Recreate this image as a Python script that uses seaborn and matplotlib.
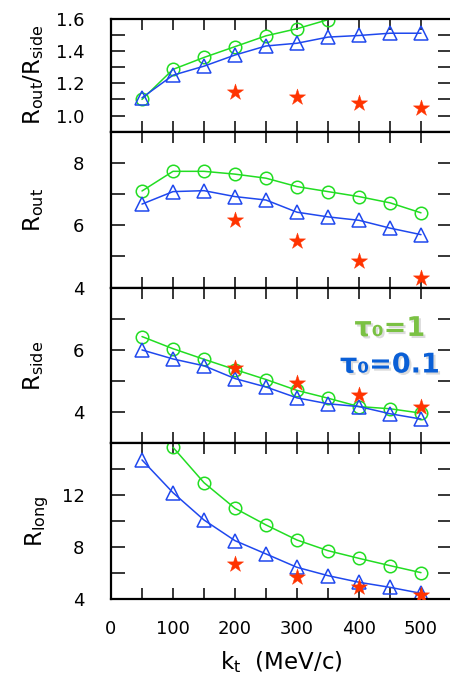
import matplotlib
matplotlib.use("Agg")
import matplotlib.pyplot as plt
import matplotlib.patheffects as pe
import seaborn as sns

# k_t values (MeV/c)
kt = [50, 100, 150, 200, 250, 300, 350, 400, 450, 500]
kt_data = [200, 300, 400, 500]

# Rout/Rside
ratio_tau1 = [1.10, 1.286, 1.36, 1.427, 1.494, 1.538, 1.594]
ratio_tau01 = [1.11, 1.25, 1.306, 1.375, 1.431, 1.448, 1.486, 1.496, 1.51, 1.51]
ratio_data = [1.144, 1.115, 1.077, 1.044]

# Rout
rout_tau1 = [7.10, 7.73, 7.73, 7.64, 7.51, 7.24, 7.08, 6.92, 6.72, 6.40]
rout_tau01 = [6.68, 7.08, 7.11, 6.92, 6.81, 6.42, 6.27, 6.16, 5.91, 5.70]
rout_data = [6.16, 5.49, 4.86, 4.32]

# Rside
rside_tau1 = [6.43, 6.04, 5.70, 5.37, 5.05, 4.70, 4.45, 4.18, 4.11, 3.97]
rside_tau01 = [6.00, 5.71, 5.49, 5.08, 4.81, 4.46, 4.27, 4.18, 3.95, 3.78]
rside_data = [5.41, 4.94, 4.54, 4.16]

# Rlong (tau0=1 starts at 100 MeV/c, the 50 point is off scale)
kt_long_tau1 = [100, 150, 200, 250, 300, 350, 400, 450, 500]
rlong_tau1 = [15.69, 12.97, 11.0, 9.72, 8.56, 7.74, 7.15, 6.59, 6.05]
rlong_tau01 = [14.72, 12.2, 10.1, 8.51, 7.49, 6.46, 5.82, 5.31, 4.92, 4.46]
rlong_data = [6.69, 5.74, 4.97, 4.33]

xticks = [0, 50, 100, 150, 200, 250, 300, 350, 400, 450, 500, 550]
xticklabels = ["0", "", "100", "", "200", "", "300", "", "400", "", "500", ""]

panels = [
    dict(ylabel="R$_{\\rm out}$/R$_{\\rm side}$", ylim=(0.9, 1.6),
         yticks=[1.0, 1.1, 1.2, 1.3, 1.4, 1.5, 1.6],
         ylabels=["1.0", "", "1.2", "", "1.4", "", "1.6"],
         k1=kt[:7], y1=ratio_tau1, y01=ratio_tau01, yd=ratio_data, lx=-0.19),
    dict(ylabel="R$_{\\rm out}$", ylim=(4, 9),
         yticks=[4, 5, 6, 7, 8], ylabels=["4", "", "6", "", "8"],
         k1=kt, y1=rout_tau1, y01=rout_tau01, yd=rout_data, lx=-0.19),
    dict(ylabel="R$_{\\rm side}$", ylim=(3, 8),
         yticks=[4, 5, 6, 7], ylabels=["4", "", "6", ""],
         k1=kt, y1=rside_tau1, y01=rside_tau01, yd=rside_data, lx=-0.19),
    dict(ylabel="R$_{\\rm long}$", ylim=(4, 16),
         yticks=[4, 6, 8, 10, 12, 14], ylabels=["4", "", "8", "", "12", ""],
         k1=kt_long_tau1, y1=rlong_tau1, y01=rlong_tau01, yd=rlong_data, lx=-0.175),
]

green = "#22dd22"
blue = "#1f48ee"
red = "#ff3300"

sns.set_style("ticks")
plt.rcParams["font.family"] = ["DejaVu Sans"]
plt.rcParams["mathtext.fontset"] = "dejavusans"
plt.rcParams["text.color"] = "black"
plt.rcParams["axes.labelcolor"] = "black"
plt.rcParams["xtick.labelcolor"] = "black"
plt.rcParams["ytick.labelcolor"] = "black"

W, H = 450, 684
fig = plt.figure(figsize=(W / 100, H / 100), dpi=100)

left_px, right_px = 111, 452
edges_px = [18.7, 131.7, 287.7, 443.3, 599.3]

axes = []
for i, p in enumerate(panels):
    top, bot = edges_px[i], edges_px[i + 1]
    ax = fig.add_axes([left_px / W, 1 - bot / H, (right_px - left_px) / W, (bot - top) / H])
    axes.append(ax)

    sns.lineplot(x=p["k1"], y=p["y1"], ax=ax, color=green, lw=1.1, marker="o",
                 markersize=9, markerfacecolor="none", markeredgecolor=green,
                 markeredgewidth=1.1)
    sns.lineplot(x=kt, y=p["y01"], ax=ax, color=blue, lw=1.1, marker="^",
                 markersize=10, markerfacecolor="none", markeredgecolor=blue,
                 markeredgewidth=1.1)
    sns.scatterplot(x=kt_data, y=p["yd"], ax=ax, color=red, marker="*", s=150,
                    edgecolor=red, linewidth=0.3, zorder=5)

    ax.set_xlim(0, 550)
    ax.set_ylim(*p["ylim"])
    ax.set_xticks(xticks)
    ax.set_yticks(p["yticks"])
    ax.set_yticklabels(p["ylabels"])
    if i == 3:
        ax.set_xticklabels(xticklabels)
        ax.set_xlabel("k$_{\\rm t}$  (MeV/c)", fontsize=16.5, labelpad=8)
    else:
        ax.set_xticklabels([])
    ax.tick_params(axis="x", direction="in", top=True, bottom=True,
                   length=8, width=1.1, labelsize=13, pad=15, color="black")
    ax.tick_params(axis="y", direction="in", left=True, right=True,
                   length=10, width=1.1, labelsize=13, pad=19, color="black")
    ax.set_ylabel(p["ylabel"], fontsize=16.5)
    ax.yaxis.set_label_coords(p["lx"], 0.5)
    for s in ax.spines.values():
        s.set_linewidth(1.6)
        s.set_color("black")

shadow = [pe.withSimplePatchShadow(offset=(1.5, -1.5), shadow_rgbFace="#999999", alpha=0.35)]
axes[2].text(0.818, 0.735, "τ₀=1", transform=axes[2].transAxes, ha="center",
             va="center", fontsize=19.5, fontweight="bold", color="#7ac143",
             path_effects=shadow)
axes[2].text(0.818, 0.50, "τ₀=0.1", transform=axes[2].transAxes, ha="center",
             va="center", fontsize=19.5, fontweight="bold", color="#0a5fd6",
             path_effects=shadow)

fig.savefig("out.png", dpi=100)
